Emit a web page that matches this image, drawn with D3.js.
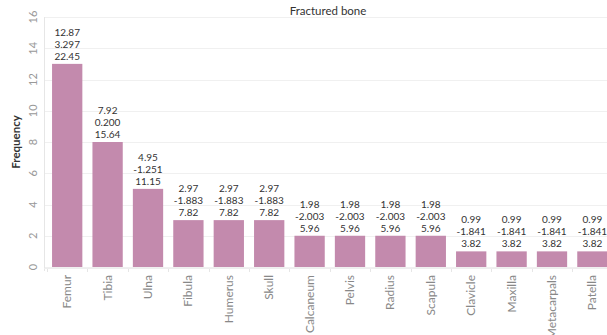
<!doctype html>
<html lang="en">
<head>
<meta charset="UTF-8">
<script src="https://d3js.org/d3.v7.min.js"></script>
<title>Fractured bone</title>
<style>
  body { margin: 0; background: #fff; }
  text { font-family: Lato, "Open Sans", sans-serif; }
</style>
</head>
<body>
<div id="chart"></div>
<script>
// data
var bones = ["Femur", "Tibia", "Ulna", "Fibula", "Humerus", "Skull", "Calcaneum", "Pelvis",
             "Radius", "Scapula", "Clavicle", "Maxilla", "Metacarpals", "Patella"];
var counts = [13, 8, 5, 3, 3, 3, 2, 2, 2, 2, 1, 1, 1, 1];
var percents = ["12.87", "7.92", "4.95", "2.97", "2.97", "2.97", "1.98", "1.98", "1.98", "1.98", "0.99", "0.99", "0.99", "0.99"];
var zScores = ["3.297", "0.200", "-1.251", "-1.883", "-1.883", "-1.883", "-2.003", "-2.003", "-2.003", "-2.003", "-1.841", "-1.841", "-1.841", "-1.841"];
var thirdLine = ["22.45", "15.64", "11.15", "7.82", "7.82", "7.82", "5.96", "5.96", "5.96", "5.96", "3.82", "3.82", "3.82", "3.82"];
var yTicks = [0, 2, 4, 6, 8, 10, 12, 14, 16];

var W = 607, H = 335;
var mLeft = 44, mTop = 17, mBottom = 267;

var svg = d3.select("#chart").append("svg")
    .attr("width", W).attr("height", H);

var x = d3.scaleBand()
    .domain(bones)
    .range([mLeft + 3, mLeft + 3 + 14 * 40.4])
    .paddingInner(0.25)
    .paddingOuter(0.125);

var y = d3.scaleLinear()
    .domain([0, 16])
    .range([mBottom, mTop]);

// grid lines
svg.append("g")
    .selectAll("line")
    .data(yTicks)
    .enter().append("line")
    .attr("x1", mLeft).attr("x2", W)
    .attr("y1", function (d) { return Math.round(y(d)) + 0.5; })
    .attr("y2", function (d) { return Math.round(y(d)) + 0.5; })
    .attr("stroke", "#f0f0f0");

// y axis line
svg.append("line")
    .attr("x1", mLeft + 0.5).attr("x2", mLeft + 0.5)
    .attr("y1", mTop).attr("y2", mBottom + 4)
    .attr("stroke", "#e6e6e6");

// y tick labels (rotated)
svg.append("g")
    .selectAll("text")
    .data(yTicks)
    .enter().append("text")
    .attr("transform", function (d) { return "translate(37," + y(d) + ") rotate(-90)"; })
    .attr("text-anchor", "middle")
    .attr("font-size", 11)
    .attr("fill", "#999")
    .text(function (d) { return d; });

svg.append("text")
    .attr("transform", "translate(20," + ((mTop + mBottom) / 2) + ") rotate(-90)")
    .attr("text-anchor", "middle")
    .attr("font-size", 11.5)
    .attr("font-weight", "bold")
    .attr("fill", "#333")
    .text("Frequency");

// title
svg.append("text")
    .attr("x", 328).attr("y", 15)
    .attr("text-anchor", "middle")
    .attr("font-size", 11.5)
    .attr("fill", "#333")
    .text("Fractured bone");

// x axis with tick marks at band edges
var step = x.step();
svg.append("g")
    .selectAll("line")
    .data(d3.range(bones.length + 1))
    .enter().append("line")
    .attr("x1", function (i) { return Math.round(x.range()[0] + i * step) + 0.5; })
    .attr("x2", function (i) { return Math.round(x.range()[0] + i * step) + 0.5; })
    .attr("y1", mBottom + 1).attr("y2", mBottom + 5)
    .attr("stroke", "#e6e6e6");
svg.append("line")
    .attr("x1", mLeft).attr("x2", W)
    .attr("y1", mBottom + 1.5).attr("y2", mBottom + 1.5)
    .attr("stroke", "#eeeeee");

// bars
svg.append("g")
    .selectAll("rect")
    .data(bones)
    .enter().append("rect")
    .attr("x", function (d) { return x(d); })
    .attr("width", x.bandwidth())
    .attr("y", function (d, i) { return y(counts[i]); })
    .attr("height", function (d, i) { return y(0) - y(counts[i]); })
    .attr("fill", "#c38aad");

// mark labels
var lab = svg.append("g")
    .selectAll("text")
    .data(bones)
    .enter().append("text")
    .attr("text-anchor", "middle")
    .attr("font-size", 10)
    .attr("fill", "#333")
    .attr("x", function (d) { return x(d) + x.bandwidth() / 2; })
    .attr("y", function (d, i) { return y(counts[i]) - 28; });
lab.append("tspan").attr("x", function (d) { return x(d) + x.bandwidth() / 2; }).attr("dy", 0)
    .text(function (d, i) { return percents[i]; });
lab.append("tspan").attr("x", function (d) { return x(d) + x.bandwidth() / 2; }).attr("dy", 12)
    .text(function (d, i) { return zScores[i]; });
lab.append("tspan").attr("x", function (d) { return x(d) + x.bandwidth() / 2; }).attr("dy", 12)
    .text(function (d, i) { return thirdLine[i]; });

// category labels (rotated)
svg.append("g")
    .selectAll("text")
    .data(bones)
    .enter().append("text")
    .attr("transform", function (d) { return "translate(" + (x(d) + x.bandwidth() / 2 + 4) + "," + (mBottom + 8) + ") rotate(-90)"; })
    .attr("text-anchor", "end")
    .attr("font-size", 12)
    .attr("fill", "#888")
    .text(function (d) { return d; });
</script>
</body>
</html>
